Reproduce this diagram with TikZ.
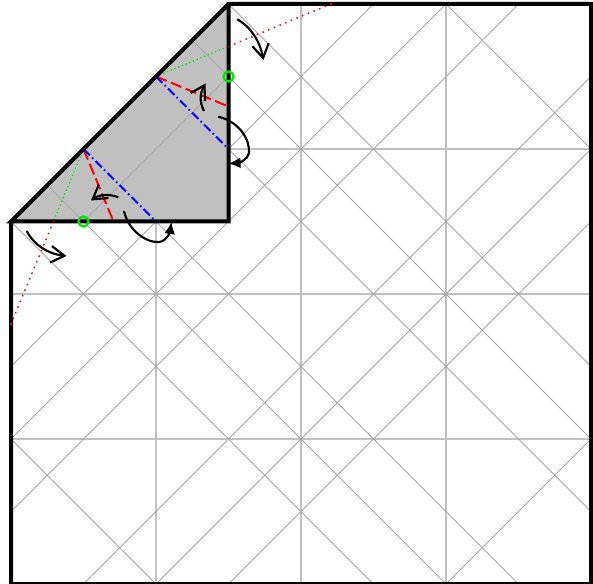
\documentclass[tikz,border=0pt]{standalone}
\usetikzlibrary{arrows.meta}
\definecolor{creasegray}{HTML}{A6A6A6}
\definecolor{axisgray}{HTML}{C0C0C0}
\definecolor{flapgray}{HTML}{C0C0C0}
\definecolor{markgreen}{HTML}{00E600}
\tikzset{
  crease/.style={creasegray,line width=0.4pt},
  axiscrease/.style={axisgray,line width=0.7pt},
  outline/.style={black,line width=1.6pt,line join=miter},
  valley/.style={red,line width=0.8pt,dash pattern=on 4.6pt off 1.8pt},
  mountain/.style={blue,line width=0.8pt,dash pattern=on 0.6pt off 1.3pt on 3.6pt off 1.3pt,dash phase=1.9pt},
  hiddenred/.style={red,line width=0.6pt,dash pattern=on 0.6pt off 1.85pt},
  hiddengreen/.style={markgreen,line width=0.5pt,dash pattern=on 0.5pt off 1.1pt},
  enddot/.style={fill=red,draw=none},
  ring/.style={markgreen,line width=0.9pt},
  openarrow/.style={black,line width=0.85pt,-{Straight Barb[length=5.4pt,width=6.6pt,line width=0.85pt]}},
  solidarrow/.style={black,line width=0.85pt,-{Latex[length=4.8pt,width=4.4pt]}},
  sheet/.style={shift={(4.4pt,-1.6pt)},x=29pt,y=-29pt}
}
\begin{document}
\begin{tikzpicture}[x=0.4pt,y=-0.4pt]
\useasboundingbox (0,0) rectangle (593,584);
\begin{scope}[sheet]
  \fill[flapgray] (3,0) -- (0,3) -- (3,3) -- cycle;
  % axis creases
  \foreach \a/\b/\c/\d in {
    1/2/1/3, 2/3/2/8, 4/0/4/8, 6/0/6/8,
    2/1/3/1, 3/2/8/2, 0/4/8/4, 0/6/8/6}
    \draw[axiscrease] (\a,\b) -- (\c,\d);
  \foreach \a/\b/\c/\d in {
    % falling diagonals
    3/0/8/5, 6/0/8/2, 2.5/0.5/8/6, 3/2/8/7,
    2/3/7/8, 0.5/2.5/6/8, 0/3/5/8, 0/6/2/8,
    % rising diagonals
    3/1/1/3, 5/0/3/2, 2/3/0/5, 6/0/3/3, 3/3/0/6,
    7/0/0/7, 8/1/1/8, 8/2/2/8, 8/3/3/8, 8/6/6/8}
    \draw[crease] (\a,\b) -- (\c,\d);
  % folds
  \coordinate (p) at (2,1);
  \coordinate (q) at (1,2);
  \coordinate (pe) at (3,0.586);
  \coordinate (qe) at (0.586,3);
  \coordinate (pf) at (4.414,0);
  \coordinate (qf) at (0,4.414);
  \draw[hiddengreen] (p) -- (pe);
  \draw[hiddengreen] (q) -- (qe);
  \draw[hiddenred] (pe) -- (pf);
  \draw[hiddenred] (qe) -- (qf);
  \draw[valley] (p) -- (3,1.414);
  \draw[valley] (q) -- (1.414,3);
  \draw[mountain] (p) -- (3,2);
  \draw[mountain] (q) -- (2,3);
  % outline
  \draw[outline] (3,0) -- (0,3) -- (3,3) -- (3,0) -- (8,0) -- (8,8) -- (0,8) -- (0,3);
  \fill[enddot] (pf) circle (0.02);
  \fill[enddot] (qf) circle (0.02);
  \fill[enddot] (pe) circle (0.012);
  \fill[enddot] (qe) circle (0.012);
  \draw[ring] (3,1) circle (0.07);
  \draw[ring] (1,3) circle (0.07);
\end{scope}
% arrows, in picture pixels
\draw[openarrow] (237.3,19.3) .. controls (252,28) and (260,42) .. (263.5,60);
\draw[openarrow] (26.7,231) .. controls (34,245) and (48,254) .. (66.5,256);
\draw[openarrow] (204,111) .. controls (200,103) and (199,95) .. (205.5,83.5);
\draw[openarrow] (118.3,197.3) .. controls (110,194) and (100,194) .. (91,200.5);
\draw[solidarrow] (218.3,116.7) .. controls (240,122) and (250,140) .. (249,153) .. controls (248,160) and (238,163) .. (228.5,163.5);
\draw[solidarrow] (124,211) .. controls (128,230) and (146,243) .. (159,242) .. controls (167,241) and (170,232) .. (171.5,222);
\end{tikzpicture}
\end{document}
